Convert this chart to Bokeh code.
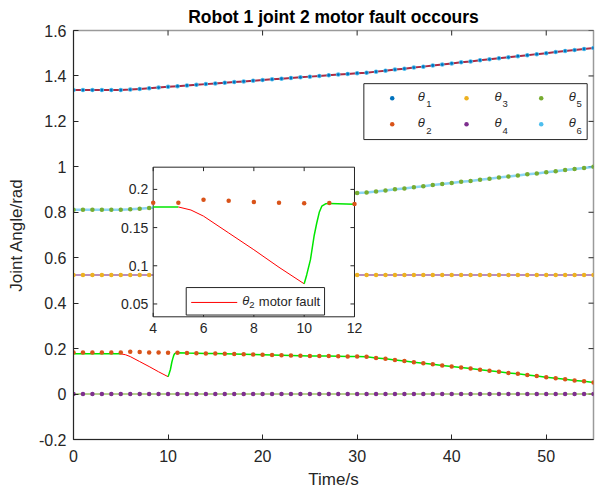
import math
from bokeh.plotting import figure
from bokeh.models import FixedTicker, Range1d
from bokeh.core.properties import value
from bokeh.embed import file_html
from bokeh.resources import INLINE

# ---------------- data ----------------
t = list(range(56))
theta1 = [1.338, 1.338, 1.338, 1.338, 1.338, 1.338, 1.340, 1.343, 1.346, 1.349,
          1.352, 1.355, 1.358, 1.361, 1.364, 1.367, 1.370, 1.373, 1.376, 1.379,
          1.382, 1.385, 1.388, 1.391, 1.394, 1.397, 1.400, 1.403, 1.406, 1.409,
          1.412, 1.414, 1.419, 1.423, 1.428, 1.432, 1.437, 1.441, 1.446, 1.450,
          1.455, 1.460, 1.464, 1.469, 1.473, 1.478, 1.482, 1.487, 1.491, 1.496,
          1.500, 1.505, 1.510, 1.514, 1.519, 1.523]
theta2 = [0.1825, 0.1825, 0.1825, 0.1825, 0.1825, 0.1825, 0.1864, 0.185, 0.1834, 0.1825,
          0.182, 0.1822, 0.181, 0.180, 0.179, 0.178, 0.177, 0.176, 0.175, 0.174,
          0.173, 0.172, 0.171, 0.170, 0.169, 0.168, 0.167, 0.167, 0.166, 0.165,
          0.165, 0.164, 0.159, 0.155, 0.150, 0.145, 0.140, 0.136, 0.131, 0.126,
          0.121, 0.117, 0.112, 0.107, 0.103, 0.098, 0.093, 0.089, 0.084, 0.079,
          0.074, 0.070, 0.065, 0.060, 0.056, 0.051]
theta3 = [0.5236] * 56
theta4 = [0.0] * 56
theta5 = [0.811, 0.811, 0.811, 0.811, 0.811, 0.811, 0.813, 0.816, 0.819, 0.822,
          0.825, 0.828, 0.831, 0.834, 0.837, 0.840, 0.843, 0.846, 0.849, 0.852,
          0.855, 0.858, 0.861, 0.864, 0.867, 0.870, 0.873, 0.876, 0.879, 0.882,
          0.885, 0.887, 0.891, 0.896, 0.901, 0.905, 0.910, 0.915, 0.920, 0.924,
          0.929, 0.934, 0.938, 0.943, 0.948, 0.953, 0.957, 0.962, 0.967, 0.971,
          0.976, 0.981, 0.986, 0.990, 0.995, 1.000]
theta6 = list(theta1)

# actual joint-2 trajectory around the fault
pre_t = [0, 1, 2, 3, 4, 5]
pre_v = [0.177, 0.177, 0.177, 0.177, 0.177, 0.177]
fault_t = [5, 5.5, 6, 7, 8, 9, 10]
fault_v = [0.177, 0.173, 0.165, 0.143, 0.121, 0.098, 0.0764]
recov_t = [10, 10.1, 10.25, 10.4, 10.5, 10.6, 10.7, 10.85, 11, 12]
recov_v = [0.0764, 0.088, 0.108, 0.140, 0.156, 0.170, 0.178, 0.1812, 0.1817, 0.1804]
post_t = recov_t + t[13:]
post_v = recov_v + theta2[13:]

x_ticks = [0, 10, 20, 30, 40, 50]
x_labels = ["0", "10", "20", "30", "40", "50"]
y_ticks = [-0.2, 0, 0.2, 0.4, 0.6, 0.8, 1, 1.2, 1.4, 1.6]
y_labels = ["-0.2", "0", "0.2", "0.4", "0.6", "0.8", "1", "1.2", "1.4", "1.6"]
ix_ticks = [4, 6, 8, 10, 12]
ix_labels = ["4", "6", "8", "10", "12"]
iy_ticks = [0.05, 0.1, 0.15, 0.2]
iy_labels = ["0.05", "0.1", "0.15", "0.2"]

names = ["θ", "θ", "θ", "θ", "θ", "θ"]
subs = ["1", "2", "3", "4", "5", "6"]
fault_label = "motor fault"

# ---------------- style / layout constants ----------------
FONT = "Liberation Sans"
TXT = "#262626"
COLORS = ["#0072BD", "#D95319", "#EDB120", "#7E2F8E", "#77AC30", "#4DBEEE"]
X_RANGE = (0, 55)
Y_RANGE = (-0.2, 1.6)
INSET_X = (4, 12)
INSET_Y = (0.0332, 0.2291)
INSET_TARGET_X = (8.43, 29.72)      # where the inset box sits, in main-axis units
INSET_TARGET_Y = (0.340, 0.9985)
TDX, TDY = 0.16, 0.0052             # inset tick lengths in inset units (~4px)

p = figure(width=602, height=491, x_range=Range1d(*X_RANGE), y_range=Range1d(*Y_RANGE),
           output_backend="svg", toolbar_location=None,
           min_border_left=73, min_border_right=9, min_border_top=30, min_border_bottom=51,
           title="Robot 1 joint 2 motor fault occours")
p.title.align = "center"
p.title.text_font = FONT
p.title.text_font_size = "17.5px"
p.title.text_font_style = "bold"
p.title.text_color = "#000000"
p.title.standoff = 7
p.grid.visible = False
p.outline_line_color = "#9a9a9a"
p.outline_line_width = 1.5
p.background_fill_color = "white"


def style_axis(ax, ticks, labels, standoff):
    ax.ticker = FixedTicker(ticks=ticks)
    ax.major_label_overrides = {k: v for k, v in zip(ticks, labels)}
    ax.major_tick_in = 5
    ax.major_tick_out = 0
    ax.minor_tick_line_color = None
    ax.axis_line_color = TXT
    ax.major_tick_line_color = TXT
    ax.major_label_text_font = FONT
    ax.major_label_text_font_size = "16px"
    ax.major_label_text_color = TXT
    ax.major_label_standoff = standoff
    ax.axis_label_text_font = FONT
    ax.axis_label_text_font_size = "17px"
    ax.axis_label_text_font_style = "normal"
    ax.axis_label_text_color = TXT


style_axis(p.xaxis[0], x_ticks, x_labels, 10)
style_axis(p.yaxis[0], y_ticks, y_labels, 7)
p.xaxis.axis_label = "Time/s"
p.yaxis.axis_label = "Joint Angle/rad"
p.xaxis.axis_label_standoff = 5
p.yaxis.axis_label_standoff = 10

# box ticks on top / right (dash markers centred on the edge; outer half is clipped)
p.scatter(x_ticks, [Y_RANGE[1]] * len(x_ticks), marker="dash", size=10, angle=math.pi / 2,
          line_color=TXT, line_width=1)
p.scatter([X_RANGE[1]] * len(y_ticks), y_ticks, marker="dash", size=10,
          line_color=TXT, line_width=1)

# actual trajectories
p.line(t, theta1, line_color="#A2142F", line_width=2, line_alpha=0.9)
p.line(t, theta5, line_color="#4DBEEE", line_width=2.5, line_alpha=0.65)
p.line(t, theta3, line_color="#7E2F8E", line_width=2, line_alpha=0.55)
p.line(t, theta4, line_color="#77AC30", line_width=2, line_alpha=0.55)
p.line(pre_t, pre_v, line_color="#00E600", line_width=1.5)
p.line(fault_t, fault_v, line_color="#FF0000", line_width=1)
p.line(post_t, post_v, line_color="#00E600", line_width=1.5)

# desired trajectories (dots); theta6 coincides with theta1
series = [theta6, theta2, theta3, theta4, theta5, theta1]
colors = [COLORS[5], COLORS[1], COLORS[2], COLORS[3], COLORS[4], COLORS[0]]
sizes = [4.5, 4.5, 4.5, 4.5, 4.5, 2.8]
for vals, c, s in zip(series, colors, sizes):
    p.scatter(t, vals, marker="circle", size=s, fill_color=c, line_color=c, line_width=0)

# legend (dot + italic theta + subscript), positions in axis units
LEG_BOX = dict(left=30.71, right=54.33, bottom=1.120, top=1.366)
LEG_DOT_X = [33.71, 33.71, 41.57, 41.57, 49.47, 49.47]
LEG_DOT_Y = [1.3015, 1.1873, 1.3015, 1.1873, 1.3015, 1.1873]
LEG_TH_X = [36.42, 36.42, 44.53, 44.53, 52.39, 52.39]
LEG_TH_Y = [1.310, 1.193, 1.310, 1.193, 1.310, 1.193]
LEG_SUB_X = [37.31, 37.31, 45.38, 45.38, 53.20, 53.20]
LEG_SUB_Y = [1.275, 1.158, 1.275, 1.158, 1.275, 1.158]
p.quad(**LEG_BOX, fill_color="white", line_color=TXT, line_width=1)
p.scatter(LEG_DOT_X, LEG_DOT_Y, marker="circle", size=4.5, fill_color=COLORS,
          line_color=COLORS, line_width=0)
p.text(LEG_TH_X, LEG_TH_Y, text=names, text_font=value(FONT), text_font_style="italic",
       text_font_size="13px", text_color=TXT, text_baseline="middle", text_align="left")
p.text(LEG_SUB_X, LEG_SUB_Y, text=subs, text_font=value(FONT),
       text_font_size="9.5px", text_color=TXT, text_baseline="middle", text_align="left")

# ---------------- inset (own scales mapped into the main frame) ----------------
sub = p.subplot(x_source=Range1d(*INSET_X), y_source=Range1d(*INSET_Y),
                x_target=Range1d(*INSET_TARGET_X), y_target=Range1d(*INSET_TARGET_Y))
x0, x1 = INSET_X
y0, y1 = INSET_Y
sub.quad(left=[x0], right=[x1], bottom=[y0], top=[y1], fill_color="white",
         line_color=TXT, line_width=1)
# inset ticks (inward) on all four sides
nx, ny = len(ix_ticks), len(iy_ticks)
sub.segment(x0=ix_ticks, y0=[y0] * nx, x1=ix_ticks, y1=[y0 + TDY] * nx, line_color=TXT)
sub.segment(x0=ix_ticks, y0=[y1] * nx, x1=ix_ticks, y1=[y1 - TDY] * nx, line_color=TXT)
sub.segment(x0=[x0] * ny, y0=iy_ticks, x1=[x0 + TDX] * ny, y1=iy_ticks, line_color=TXT)
sub.segment(x0=[x1] * ny, y0=iy_ticks, x1=[x1 - TDX] * ny, y1=iy_ticks, line_color=TXT)
sub.text(x=ix_ticks, y=[y0] * nx, text=ix_labels, y_offset=6, text_baseline="top",
         text_align="center", text_font=value(FONT), text_font_size="14px", text_color=TXT)
sub.text(x=[x0] * ny, y=iy_ticks, text=iy_labels, x_offset=-5, text_baseline="middle",
         text_align="right", text_font=value(FONT), text_font_size="14px", text_color=TXT)

# inset data (the part of the series inside the inset window)
sub.line(pre_t[4:], pre_v[4:], line_color="#00E600", line_width=1.5)
sub.line(fault_t, fault_v, line_color="#FF0000", line_width=1)
sub.line(recov_t, recov_v, line_color="#00E600", line_width=1.5)
sub.scatter(t[4:13], theta2[4:13], marker="circle", size=4.5, fill_color=COLORS[1],
            line_color=COLORS[1], line_width=0)

# inset legend
ILEG_BOX = dict(left=[5.312], right=[10.81], bottom=[0.0355], top=[0.0715])
sub.quad(**ILEG_BOX, fill_color="white", line_color=TXT, line_width=1)
sub.segment(x0=[5.51], y0=[0.052], x1=[7.34], y1=[0.052], line_color="#FF0000", line_width=1)
sub.text(x=[7.537], y=[0.0546], text=[names[1]], text_font=value(FONT), text_font_style="italic",
         text_font_size="13px", text_color=TXT, text_baseline="middle", text_align="left")
sub.text(x=[7.815], y=[0.0480], text=[subs[1]], text_font=value(FONT),
         text_font_size="9.5px", text_color=TXT, text_baseline="middle", text_align="left")
sub.text(x=[8.197], y=[0.0533], text=[fault_label], text_font=value(FONT),
         text_font_size="13px", text_color=TXT, text_baseline="middle", text_align="left")

open("out.html", "w").write(file_html(p, INLINE))
